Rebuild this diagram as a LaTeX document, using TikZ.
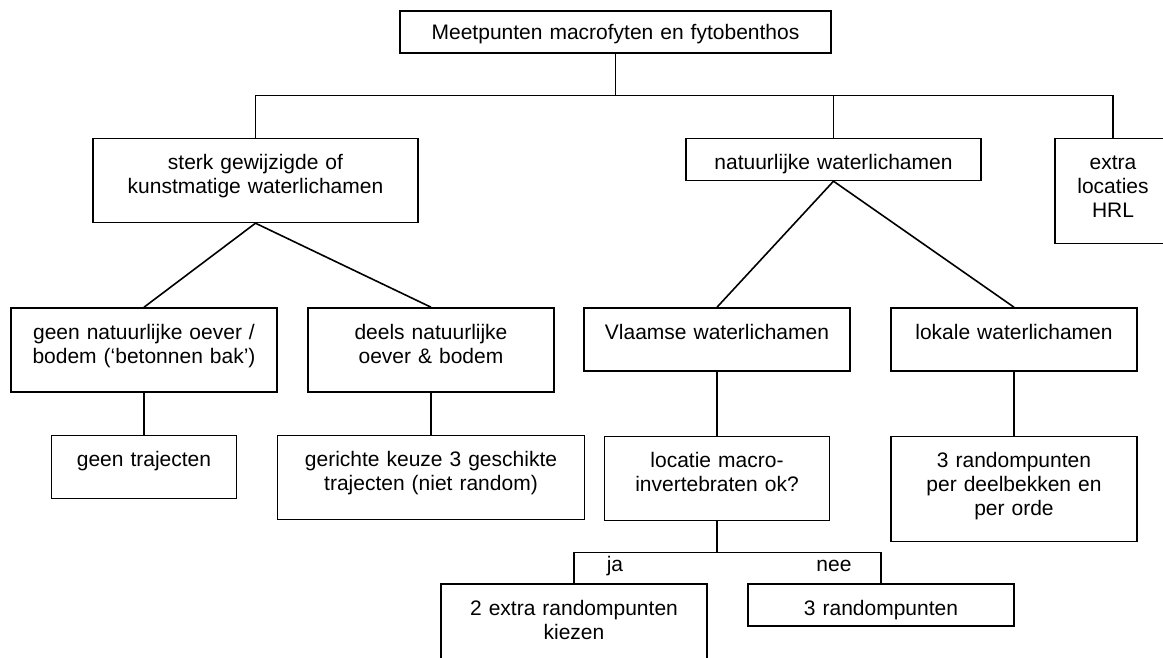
\documentclass[tikz,border=0pt]{standalone}
\usepackage{fontspec}
\setmainfont{Liberation Sans}
\usetikzlibrary{positioning}
\newcommand{\boxfont}{\fontsize{21}{24}\selectfont}

\begin{document}
\begin{tikzpicture}[
    x=1pt, y=1pt,             % work in pixels of the original
    line width=1.6pt,
    node distance=42pt
  ]

  %--- Styles for the boxes and the ja/nee labels ---
  \tikzset{
    textBox/.style 2 args={draw=black, fill=white, line width=1.6pt,
    inner sep=0pt, anchor=north, text width=#1, minimum width=#1,
    align=center, text height=31pt, text depth=#2, font=\boxfont},
    choiceLabel/.style={inner sep=0pt, font=\boxfont},
  }

  \path[use as bounding box, fill=white] (0,0) rectangle (1163,-657);

  %------------------------------------------------------------------------------
  % 1) Top box and first level
  %------------------------------------------------------------------------------
  \node[textBox={431pt}{13pt}, text height=29pt] (top) at (615.5,-10)
  {Meetpunten macrofyten en fytobenthos};

  \node[textBox={325pt}{53pt}] (sterk) [below=84pt of top, xshift=-360pt]
  {sterk gewijzigde of\\kunstmatige waterlichamen};
  \node[textBox={295pt}{11pt}] (natuur) [below=84pt of top, xshift=218pt]
  {natuurlijke waterlichamen};
  \node[textBox={116pt}{74pt}] (extra) [below=84pt of top, xshift=497.5pt]
  {extra\\locaties\\HRL};

  %------------------------------------------------------------------------------
  % 2) Second level
  %------------------------------------------------------------------------------
  \node[textBox={266pt}{53pt}] (geen) [below=84pt of sterk, xshift=-111.5pt]
  {geen natuurlijke oever /\\bodem (‘betonnen bak’)};
  \node[textBox={246pt}{53pt}] (deels) [below=84pt of sterk, xshift=175.5pt]
  {deels natuurlijke\\oever \& bodem};
  \node[textBox={266pt}{32pt}] (vlaams) [below=126pt of natuur, xshift=-116.5pt]
  {Vlaamse waterlichamen};
  \node[textBox={246pt}{32pt}] (lokaal) [below=126pt of natuur, xshift=180.5pt]
  {lokale waterlichamen};

  %------------------------------------------------------------------------------
  % 3) Third level
  %------------------------------------------------------------------------------
  \node[textBox={185pt}{32pt}] (geentraj) [below=of geen] {geen trajecten};
  \node[textBox={307pt}{53pt}] (gericht) [below=of deels]
  {gerichte keuze 3 geschikte\\trajecten (niet random)};
  \node[textBox={225pt}{53pt}] (locatie) [below=64pt of vlaams]
  {locatie macro-\\invertebraten ok?};
  \node[textBox={246pt}{74pt}] (random3) [below=64pt of lokaal]
  {3 randompunten\\per deelbekken en\\per orde};

  %------------------------------------------------------------------------------
  % 4) Answers to the question
  %------------------------------------------------------------------------------
  \node[textBox={266pt}{53pt}] (extra2) [below=62pt of locatie, xshift=-143pt]
  {2 extra randompunten\\kiezen};
  \node[textBox={266pt}{11pt}] (random) [below=62pt of locatie, xshift=164pt]
  {3 randompunten};

  \node[choiceLabel, above=12pt of extra2.north, xshift=41pt, anchor=base]
  (ja) {ja};
  \node[choiceLabel, above=12pt of random.north, xshift=-47pt, anchor=base]
  (nee) {nee};

  %------------------------------------------------------------------------------
  % Connectors
  %------------------------------------------------------------------------------
  \coordinate[below=42pt of top] (split);
  \draw (top.south) -- (split);
  \draw (sterk.north) |- (split) -| (extra.north);
  \draw (split -| natuur.north) -- (natuur.north);

  \draw (geen.north) -- (sterk.south) -- (deels.north);
  \draw (vlaams.north) -- (natuur.south) -- (lokaal.north);

  \draw (geen.south) -- (geentraj.north);
  \draw (deels.south) -- (gericht.north);
  \draw (vlaams.south) -- (locatie.north);
  \draw (lokaal.south) -- (random3.north);

  \coordinate[below=31pt of locatie] (choice);
  \draw (locatie.south) -- (choice);
  \draw (extra2.north) |- (choice) -| (random.north);

\end{tikzpicture}
\end{document}
